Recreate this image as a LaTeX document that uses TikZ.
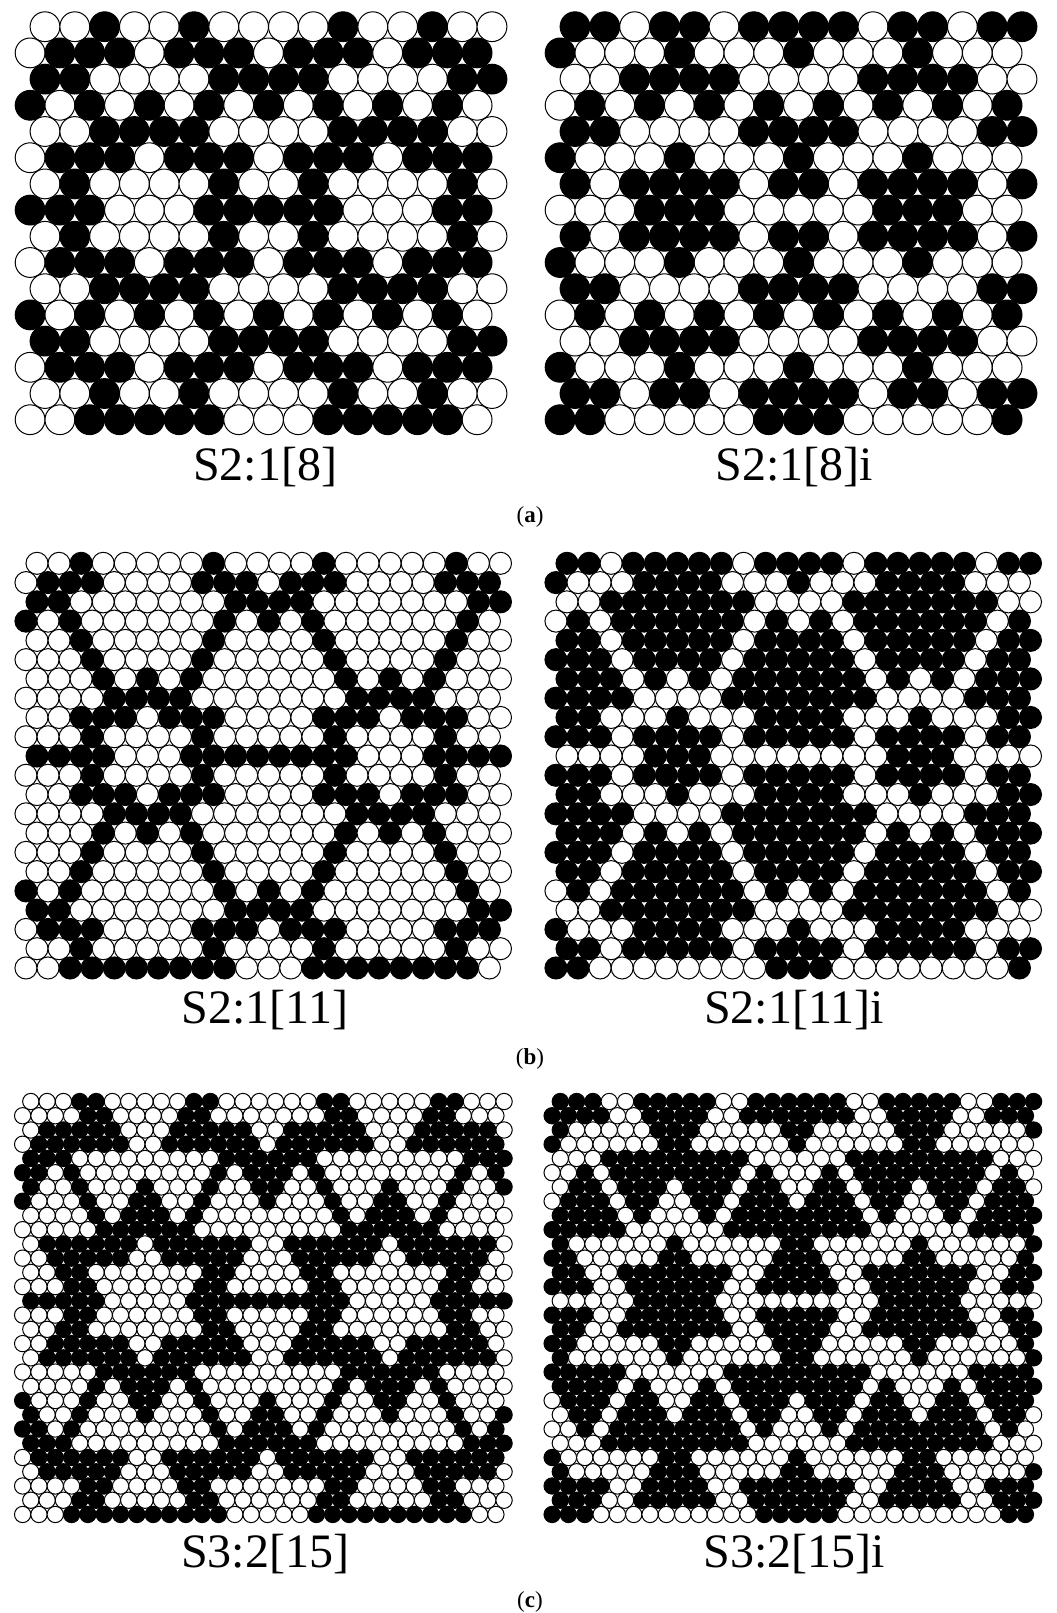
\documentclass[tikz,border=0pt]{standalone}
\usepackage{fontspec}
\setmainfont{Liberation Serif}
\usepackage{tikz}

% one row = one period of the colouring (1 = black), drawn twice across
\newcommand{\rowsA}{%
  {0,0,1,0,0,1,0,0},{0,1,1,1,0,1,1,1},{1,1,0,0,0,0,1,1},{1,0,1,0,1,0,1,0},%
  {0,0,1,1,1,1,0,0},{0,1,1,1,0,1,1,1},{0,1,0,0,0,0,1,0},{1,1,1,0,0,0,1,1},%
  {0,1,0,0,0,0,1,0},{0,1,1,1,0,1,1,1},{0,0,1,1,1,1,0,0},{1,0,1,0,1,0,1,0},%
  {1,1,0,0,0,0,1,1},{0,1,1,1,0,1,1,1},{0,0,1,0,0,1,0,0},{0,0,1,1,1,1,1,0}}
\newcommand{\rowsB}{%
  {0,0,1,0,0,0,0,0,1,0,0},{0,1,1,1,0,0,0,0,1,1,1},{1,1,0,0,0,0,0,0,0,1,1},%
  {1,0,1,0,0,0,0,0,0,1,0},{0,0,1,0,0,0,0,0,1,0,0},{0,0,0,1,0,0,0,0,1,0,0},%
  {0,0,0,1,0,1,0,1,0,0,0},{0,0,0,0,1,1,1,1,0,0,0},{0,0,1,1,1,0,1,1,1,0,0},%
  {0,0,0,1,0,0,0,0,1,0,0},{1,1,1,1,0,0,0,1,1,1,1},{0,0,0,1,0,0,0,0,1,0,0},%
  {0,0,1,1,1,0,1,1,1,0,0},{0,0,0,0,1,1,1,1,0,0,0},{0,0,0,1,0,1,0,1,0,0,0},%
  {0,0,0,1,0,0,0,0,1,0,0},{0,0,1,0,0,0,0,0,1,0,0},{1,0,1,0,0,0,0,0,0,1,0},%
  {1,1,0,0,0,0,0,0,0,1,1},{0,1,1,1,0,0,0,0,1,1,1},{0,0,1,0,0,0,0,0,1,0,0},%
  {0,0,1,1,1,1,1,1,1,1,0}}
\newcommand{\rowsC}{%
  {0,0,0,1,1,0,0,0,0,0,1,1,0,0,0},{0,0,0,0,1,1,0,0,0,0,1,1,0,0,0},%
  {0,1,1,1,1,1,0,0,0,1,1,1,1,1,0},{0,1,1,1,1,1,1,0,0,1,1,1,1,1,1},%
  {1,1,1,0,0,0,0,0,0,0,0,0,1,1,1},{1,1,0,1,0,0,0,0,0,0,0,0,1,0,1},%
  {1,0,0,1,0,0,0,1,0,0,0,1,0,0,1},{1,0,0,0,1,0,0,1,1,0,0,1,0,0,0},%
  {0,0,0,0,1,0,1,1,1,0,1,0,0,0,0},{0,0,0,0,0,1,1,1,1,1,1,0,0,0,0},%
  {0,1,1,1,1,1,1,0,1,1,1,1,1,1,0},{0,0,1,1,1,1,1,0,0,1,1,1,1,1,0},%
  {0,0,1,1,0,0,0,0,0,0,0,1,1,0,0},{0,0,0,1,1,0,0,0,0,0,0,1,1,0,0},%
  {1,1,1,1,1,0,0,0,0,0,1,1,1,1,1},%
  {0,0,0,1,1,0,0,0,0,0,0,1,1,0,0},{0,0,1,1,0,0,0,0,0,0,0,1,1,0,0},%
  {0,0,1,1,1,1,1,0,0,1,1,1,1,1,0},{0,1,1,1,1,1,1,0,1,1,1,1,1,1,0},%
  {0,0,0,0,0,1,1,1,1,1,1,0,0,0,0},{0,0,0,0,1,0,1,1,1,0,1,0,0,0,0},%
  {1,0,0,0,1,0,0,1,1,0,0,1,0,0,0},{1,0,0,1,0,0,0,1,0,0,0,1,0,0,1},%
  {1,1,0,1,0,0,0,0,0,0,0,0,1,0,1},{1,1,1,0,0,0,0,0,0,0,0,0,1,1,1},%
  {0,1,1,1,1,1,1,0,0,1,1,1,1,1,1},{0,1,1,1,1,1,0,0,0,1,1,1,1,1,0},%
  {0,0,0,0,1,1,0,0,0,0,1,1,0,0,0},{0,0,0,1,1,0,0,0,0,0,1,1,0,0,0},%
  {0,0,0,1,1,1,1,1,1,1,1,1,1,0,0}}

% #1 x of first centre, #2 y of first row, #3 diameter, #4 row step,
% #5 period, #6 inverted (0/1), #7 rows
\newcommand{\hexpanel}[7]{%
  \pgfmathsetmacro{\rad}{#3/4}%
  \foreach \prow [count=\nrow from 0] in #7 {
    \foreach \rep in {0,1} {
      \foreach \val [count=\ncol from 0] in \prow {
        \pgfmathsetmacro{\xx}{#1+(\rep*#5+\ncol)*#3-mod(\nrow,2)*#3/2}
        \pgfmathsetmacro{\yy}{#2+\nrow*#4}
        \pgfmathtruncatemacro{\blk}{abs(\val-#6)}
        \ifnum\blk=1 \def\fc{black}\else\def\fc{white}\fi
        \draw[pebble,fill=\fc] (\xx,\yy) circle[radius=\rad pt];
      }
    }
  }%
}

\tikzset{
  pebble/.style={draw=black,line width=0.5pt},
  tag/.style={font=\fontsize{24}{28}\selectfont,anchor=base},
  sub/.style={font=\fontsize{11.5}{14}\selectfont,anchor=base}
}

\begin{document}
\begin{tikzpicture}[x=0.5pt,y=-0.5pt]
  \useasboundingbox (0,0) rectangle (1056,1613);
  % ---------------- (a) ----------------
  \hexpanel{45}{26.7}{29.8}{26.2}{8}{0}{\rowsA}
  \hexpanel{575}{26.7}{29.8}{26.2}{8}{1}{\rowsA}
  \node[tag] (labA)  at (265,480) {S2:1[8]};
  \node[tag] (labAi) at (794,480) {S2:1[8]i};
  \node[sub] (capA)  at (530,522) {(\textbf{a})};
  % ---------------- (b) ----------------
  \hexpanel{37}{563.3}{22.07}{19.27}{11}{0}{\rowsB}
  \hexpanel{567}{563.3}{22.07}{19.27}{11}{1}{\rowsB}
  \node[tag] (labB)  at (265,1023) {S2:1[11]};
  \node[tag] (labBi) at (794,1023) {S2:1[11]i};
  \node[sub] (capB)  at (530,1064) {(\textbf{b})};
  % ---------------- (c) ----------------
  \hexpanel{30.8}{1101.5}{16.32}{14.24}{15}{0}{\rowsC}
  \hexpanel{560.3}{1101.5}{16.32}{14.24}{15}{1}{\rowsC}
  \node[tag] (labC)  at (265,1567) {S3:2[15]};
  \node[tag] (labCi) at (794,1567) {S3:2[15]i};
  \node[sub] (capC)  at (530,1607) {(\textbf{c})};
\end{tikzpicture}
\end{document}
